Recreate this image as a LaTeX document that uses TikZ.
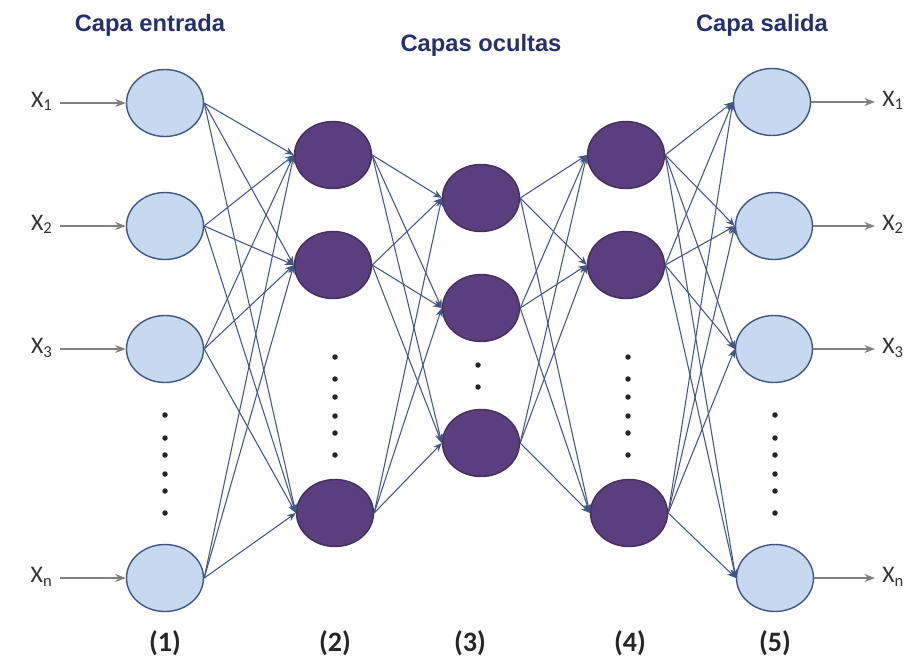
\documentclass[tikz,border=0pt]{standalone}
\usepackage{fontspec}
\setmainfont{Carlito}
\newfontfamily\titlefont{Liberation Sans}
\usepackage{tikz}
\usetikzlibrary{arrows.meta}
\usetikzlibrary{shapes.geometric}
\definecolor{light-blue}{RGB}{198,217,240}
\definecolor{dark-purple}{RGB}{91,62,126}
\definecolor{edge-blue}{RGB}{66,86,134}
\definecolor{title-blue}{RGB}{38,48,108}
\tikzset{
	weight/.style={edge-blue, line width=0.6pt, -{Stealth[length=5pt,width=4pt]}},
	ioarrow/.style={gray, line width=1pt, -{Stealth[length=6pt,width=4.5pt]}}
}
\tikzstyle{neuron}=[ellipse, minimum width=1.54cm, minimum height=1.34cm, inner sep=0pt, line width=0.8pt]
\tikzstyle{inout}=[neuron, draw=edge-blue, fill=light-blue]
\tikzstyle{hidden}=[neuron, draw=dark-purple!75!black, fill=dark-purple]
\tikzstyle{xlabel}=[inner ysep=1pt, inner xsep=4pt, font=\fontsize{13.5}{15}\selectfont, text=black!80]
\tikzstyle{layertitle}=[font=\titlefont\bfseries\fontsize{13.5}{16}\selectfont, text=title-blue]
\tikzstyle{layernum}=[font=\bfseries\fontsize{16}{19}\selectfont, text=black!85]

\begin{document}
\begin{tikzpicture}
	\useasboundingbox (0,0) rectangle (18.24,-13.24);
	\node[layertitle] at (3.0,-0.5) {Capa entrada};
	\node[layertitle] at (9.62,-0.9) {Capas ocultas};
	\node[layertitle] at (15.24,-0.5) {Capa salida};
	\node[inout] (a1) at (3.30,-2.06) {};
	\node[inout] (a2) at (3.30,-4.52) {};
	\node[inout] (a3) at (3.30,-6.98) {};
	\node[inout] (a4) at (3.30,-11.56) {};
	\node[hidden] (b1) at (6.66,-3.10) {};
	\node[hidden] (b2) at (6.66,-5.30) {};
	\node[hidden] (b3) at (6.70,-10.26) {};
	\node[hidden] (c1) at (9.62,-3.96) {};
	\node[hidden] (c2) at (9.62,-6.16) {};
	\node[hidden] (c3) at (9.62,-8.86) {};
	\node[hidden] (d1) at (12.52,-3.10) {};
	\node[hidden] (d2) at (12.52,-5.30) {};
	\node[hidden] (d3) at (12.58,-10.26) {};
	\node[inout] (e1) at (15.44,-2.04) {};
	\node[inout] (e2) at (15.48,-4.52) {};
	\node[inout] (e3) at (15.48,-6.98) {};
	\node[inout] (e4) at (15.50,-11.56) {};
	\foreach \y in {-8.30,-8.76,-9.10,-9.48,-9.82,-10.26} {
		\fill[black!85] (3.30,\y) circle (0.055);
		\fill[black!85] (15.50,\y) circle (0.055);
	}
	\foreach \y in {-7.14,-7.58,-7.94,-8.32,-8.66,-9.10} {
		\fill[black!85] (6.70,\y) circle (0.055);
		\fill[black!85] (12.56,\y) circle (0.055);
	}
	\fill[black!85] (9.56,-7.30) circle (0.055);
	\fill[black!85] (9.56,-7.74) circle (0.055);
	\foreach \s in {1,2,3,4}
		\foreach \t in {1,2,3}
			\draw[weight] (a\s.east) -- (b\t.west);
	\foreach \s in {1,2,3}
		\foreach \t in {1,2,3}
			\draw[weight] (b\s.east) -- (c\t.west);
	\foreach \s in {1,2,3}
		\foreach \t in {1,2,3}
			\draw[weight] (c\s.east) -- (d\t.west);
	\foreach \s in {1,2,3}
		\foreach \t in {1,2,3,4}
			\draw[weight] (d\s.east) -- (e\t.west);
	\node[xlabel, anchor=mid east] (x1) at (1.20,-2.06) {X\textsubscript{1}};
	\node[xlabel, anchor=mid east] (x2) at (1.20,-4.52) {X\textsubscript{2}};
	\node[xlabel, anchor=mid east] (x3) at (1.20,-6.98) {X\textsubscript{3}};
	\node[xlabel, anchor=mid east] (xn) at (1.20,-11.56) {X\textsubscript{n}};
	\node[xlabel, anchor=mid west] (y1) at (17.50,-2.04) {X\textsubscript{1}};
	\node[xlabel, anchor=mid west] (y2) at (17.50,-4.52) {X\textsubscript{2}};
	\node[xlabel, anchor=mid west] (y3) at (17.50,-6.98) {X\textsubscript{3}};
	\node[xlabel, anchor=mid west] (yn) at (17.50,-11.56) {X\textsubscript{n}};
	\draw[ioarrow] (x1.mid east) -- (a1.west);
	\draw[ioarrow] (x2.mid east) -- (a2.west);
	\draw[ioarrow] (x3.mid east) -- (a3.west);
	\draw[ioarrow] (xn.mid east) -- (a4.west);
	\draw[ioarrow] (e1.east) -- (y1.mid west);
	\draw[ioarrow] (e2.east) -- (y2.mid west);
	\draw[ioarrow] (e3.east) -- (y3.mid west);
	\draw[ioarrow] (e4.east) -- (yn.mid west);
	\node[layernum] at (3.30,-12.86) {(1)};
	\node[layernum] at (6.70,-12.86) {(2)};
	\node[layernum] at (9.40,-12.86) {(3)};
	\node[layernum] at (12.60,-12.86) {(4)};
	\node[layernum] at (15.50,-12.86) {(5)};
\end{tikzpicture}
\end{document}
